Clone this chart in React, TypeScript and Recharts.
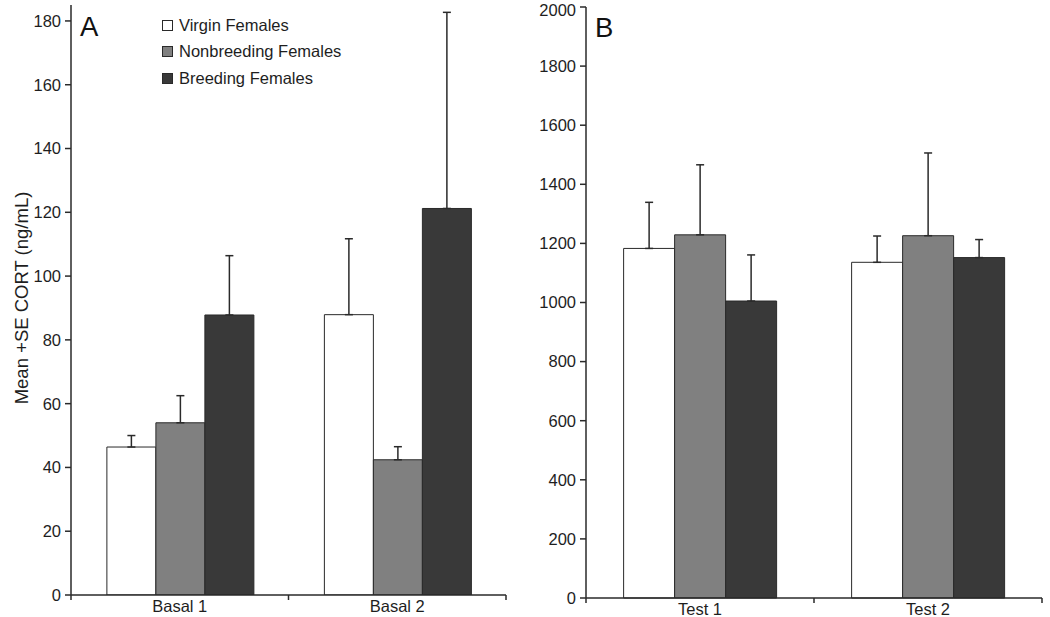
import React from 'react';
import { BarChart, Bar, XAxis, YAxis, ErrorBar } from 'recharts';

const basalCategories = ['Basal 1', 'Basal 2'];
const basalVirgin = [46.4, 87.9];
const basalVirginSE = [3.6, 23.8];
const basalNonbreeding = [54.0, 42.4];
const basalNonbreedingSE = [8.5, 4.1];
const basalBreeding = [87.8, 121.2];
const basalBreedingSE = [18.6, 61.5];
const basalTicks = [0, 20, 40, 60, 80, 100, 120, 140, 160, 180];

const testCategories = ['Test 1', 'Test 2'];
const testVirgin = [1183, 1136];
const testVirginSE = [156, 89];
const testNonbreeding = [1229, 1226];
const testNonbreedingSE = [237, 280];
const testBreeding = [1005, 1152];
const testBreedingSE = [156, 61];
const testTicks = [0, 200, 400, 600, 800, 1000, 1200, 1400, 1600, 1800, 2000];

const seriesNames = ['Virgin Females', 'Nonbreeding Females', 'Breeding Females'];
const seriesColors = ['#ffffff', '#808080', '#393939'];

const FONT = '"Liberation Sans", Arial, sans-serif';
const INK = '#2a2a2a';

const buildRows = (
  cats: string[],
  v: number[], vse: number[],
  n: number[], nse: number[],
  b: number[], bse: number[],
) =>
  cats.map((c, i) => ({
    name: c,
    virgin: v[i], virginErr: [0, vse[i]],
    nonbreeding: n[i], nonbreedingErr: [0, nse[i]],
    breeding: b[i], breedingErr: [0, bse[i]],
  }));

const basalData = buildRows(basalCategories, basalVirgin, basalVirginSE, basalNonbreeding, basalNonbreedingSE, basalBreeding, basalBreedingSE);
const testData = buildRows(testCategories, testVirgin, testVirginSE, testNonbreeding, testNonbreedingSE, testBreeding, testBreedingSE);

// category labels centred, tick marks on the band edges
const EdgeTick = (props: any) => {
  const { x, y, payload, index, visibleTicksCount, width } = props;
  const half = payload && payload.offset ? payload.offset : width / visibleTicksCount / 2;
  const last = index === visibleTicksCount - 1;
  return (
    <g>
      <line x1={x - half} x2={x - half} y1={y} y2={y + 5} stroke={INK} strokeWidth={1.5} />
      {last && <line x1={x + half} x2={x + half} y1={y} y2={y + 5} stroke={INK} strokeWidth={1.5} />}
      <text x={x} y={y + 5} dy="0.71em" textAnchor="middle" fontSize={16.5} fontFamily={FONT} fill="#1e1e1e">
        {payload.value}
      </text>
    </g>
  );
};

const LegendBox = () => (
  <div style={{ position: 'absolute', left: 162, top: 12, fontFamily: FONT, fontSize: 16.5, color: '#1e1e1e' }}>
    {seriesNames.map((s, i) => (
      <div key={s} style={{ display: 'flex', alignItems: 'center', height: 26.5 }}>
        <span style={{ width: 9, height: 9, background: seriesColors[i], border: `1px solid ${INK}`, marginRight: 6 }} />
        <span>{s}</span>
      </div>
    ))}
  </div>
);

const YLabel = (props: any) => {
  const vb = props.viewBox || { y: 0, height: 600 };
  const cy = vb.y + vb.height / 2 - 2;
  return (
    <text x={28} y={cy} transform={`rotate(-90, 28, ${cy})`} textAnchor="middle" fontSize={18.5} fontFamily={FONT} fill="#1e1e1e">
      Mean +SE CORT (ng/mL)
    </text>
  );
};

const renderBars = () =>
  (['virgin', 'nonbreeding', 'breeding'] as const).map((k, i) => (
    <Bar key={k} dataKey={k} name={seriesNames[i]} fill={seriesColors[i]} stroke={INK} strokeWidth={1} isAnimationActive={false}>
      <ErrorBar dataKey={`${k}Err`} width={4} stroke={INK} strokeWidth={1.5} direction="y" />
    </Bar>
  ));

const tickStyle = { fontSize: 16.5, fontFamily: FONT, fill: '#1e1e1e' };
const axisLine = { stroke: INK, strokeWidth: 1.5 };

export default function App() {
  return (
    <div style={{ position: 'absolute', left: 0, top: 0, width: 1050, height: 617, background: '#fff' }}>
      <div style={{ position: 'absolute', left: 0, top: 0 }}>
        <BarChart width={520} height={617} data={basalData} margin={{ top: 5, right: 14, bottom: 0, left: 0 }} barCategoryGap="16.5%" barGap={0}>
          <XAxis dataKey="name" height={22} axisLine={axisLine} tickLine={false} tickSize={0} tickMargin={0} tick={<EdgeTick />} interval={0} />
          <YAxis
            width={71}
            domain={[0, 185]}
            ticks={basalTicks}
            allowDataOverflow
            axisLine={axisLine}
            tickLine={{ stroke: INK, strokeWidth: 1.5 }}
            tickSize={6}
            tickMargin={4}
            tick={tickStyle}
            label={<YLabel />}
          />
          {renderBars()}
        </BarChart>
      </div>
      <div style={{ position: 'absolute', left: 520, top: 0 }}>
        <BarChart width={530} height={617} data={testData} margin={{ top: 7, right: 8, bottom: 0, left: 0 }} barCategoryGap="16.5%" barGap={0}>
          <XAxis dataKey="name" height={19} axisLine={axisLine} tickLine={false} tickSize={0} tickMargin={0} tick={<EdgeTick />} interval={0} />
          <YAxis
            width={66}
            domain={[0, 2000]}
            ticks={testTicks}
            axisLine={axisLine}
            tickLine={{ stroke: INK, strokeWidth: 1.5 }}
            tickSize={6}
            tickMargin={4}
            tick={tickStyle}
          />
          {renderBars()}
        </BarChart>
      </div>
      <LegendBox />
      <div style={{ position: 'absolute', left: 80, top: 13, fontFamily: FONT, fontSize: 27.5, color: '#111', lineHeight: 1 }}>A</div>
      <div style={{ position: 'absolute', left: 595, top: 14, fontFamily: FONT, fontSize: 27.5, color: '#111', lineHeight: 1 }}>B</div>
    </div>
  );
}
